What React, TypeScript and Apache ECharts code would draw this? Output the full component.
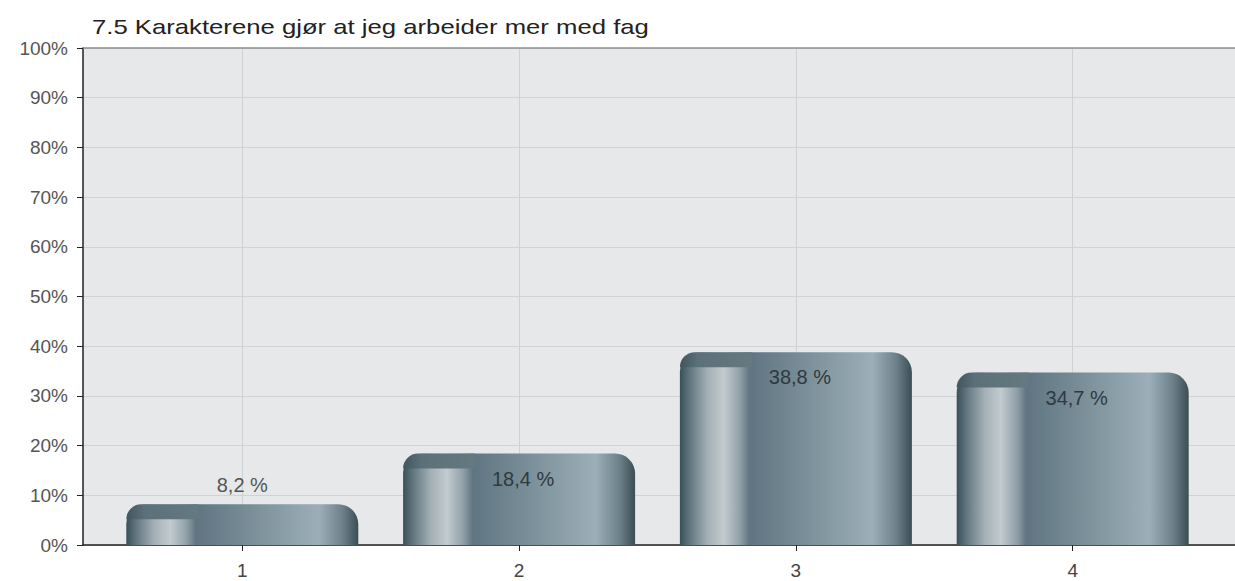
import React, { useEffect, useRef } from "react";
import * as echarts from "echarts";

const title = "7.5 Karakterene gjør at jeg arbeider mer med fag";
const categories = [1, 2, 3, 4];
const values = [8.2, 18.4, 38.8, 34.7];
const valueLabels = ["8,2 %", "18,4 %", "38,8 %", "34,7 %"];

const BAR_W = 232;
const RADIUS = 20;

export default function App() {
  const ref = useRef<HTMLDivElement>(null);
  useEffect(() => {
    if (!ref.current) return;
    const chart = echarts.init(ref.current, undefined, { renderer: "svg" });
    const barGrad = new echarts.graphic.LinearGradient(0, 0, 1, 0, [
      { offset: 0, color: "#3a5059" },
      { offset: 0.05, color: "#687c85" },
      { offset: 0.12, color: "#a4b0b6" },
      { offset: 0.19, color: "#c2cbcf" },
      { offset: 0.26, color: "#909fa7" },
      { offset: 0.3, color: "#5f7581" },
      { offset: 0.5, color: "#758a94" },
      { offset: 0.83, color: "#9cafb8" },
      { offset: 0.93, color: "#6e828b" },
      { offset: 1, color: "#3b4e56" },
    ]);
    const bandGrad = new echarts.graphic.LinearGradient(0, 0, 1, 0, [
      { offset: 0, color: "#40555e" },
      { offset: 0.25, color: "#5c7079" },
      { offset: 1, color: "#657981" },
    ]);
    const axisBase = {
      type: "value",
      min: 0.4245,
      max: 4.5864,
    };
    chart.setOption({
      animation: false,
      backgroundColor: "#ffffff",
      graphic: [
        {
          type: "text",
          left: 92,
          top: 17,
          scaleX: 1.285,
          style: {
            text: title,
            fontFamily: "Liberation Sans",
            fontSize: 20,
            fill: "#222",
          },
        },
      ],
      grid: {
        left: 83,
        right: -6,
        top: 48,
        bottom: 36,
        show: true,
        backgroundColor: "#e6e8ea",
        borderWidth: 0,
      },
      xAxis: [
        {
          ...axisBase,
          axisLine: { show: true, onZero: false, lineStyle: { color: "#222", width: 1.5 } },
          axisTick: { show: true, length: 6, customValues: categories, lineStyle: { color: "#222" } },
          axisLabel: {
            customValues: categories,
            fontFamily: "Liberation Sans",
            fontSize: 19,
            color: "#444",
            margin: 16,
          },
          splitLine: { show: true, lineStyle: { color: "#cfd2d5" } },
        },
        {
          ...axisBase,
          position: "top",
          axisLine: { show: true, onZero: false, lineStyle: { color: "#8c8f92", width: 1.5 } },
          axisTick: { show: false },
          axisLabel: { show: false },
          splitLine: { show: false },
        },
      ],
      yAxis: {
        type: "value",
        min: 0,
        max: 100,
        interval: 10,
        axisLine: { show: true, lineStyle: { color: "#222", width: 1.5 } },
        axisTick: { show: true, length: 6, lineStyle: { color: "#222" } },
        axisLabel: {
          formatter: "{value}%",
          fontFamily: "Liberation Sans",
          fontSize: 19,
          color: "#555",
          margin: 15,
        },
        splitLine: { show: true, lineStyle: { color: "#d0d3d6" } },
      },
      series: [
        {
          type: "bar",
          barWidth: BAR_W,
          data: values.map((v, i) => ({
            value: [categories[i], v],
            label: i === 0 ? { position: "top", distance: 9, offset: [0, 0], color: "#555" } : {},
          })),
          itemStyle: {
            color: barGrad,
            borderRadius: [RADIUS, RADIUS, 0, 0],
          },
          label: {
            show: true,
            position: "insideTop",
            distance: 15,
            offset: [4, 0],
            fontFamily: "Liberation Sans",
            fontSize: 20,
            color: "#2e3a40",
            formatter: (p: any) => valueLabels[p.dataIndex],
          },
          z: 2,
        },
        {
          type: "custom",
          z: 3,
          silent: true,
          data: values.map((v, i) => [categories[i], v]),
          renderItem: (params: any, api: any) => {
            const top = api.coord([api.value(0), api.value(1)]);
            const base = api.coord([api.value(0), 0]);
            const h = Math.min(15, base[1] - top[1]);
            const x0 = top[0] - BAR_W / 2;
            return {
              type: "rect",
              shape: { x: x0, y: top[1], width: BAR_W * 0.31, height: h, r: [RADIUS, 0, 0, 0] },
              style: { fill: bandGrad },
            };
          },
        },
      ],
    });
    return () => chart.dispose();
  }, []);
  return (
    <div
      ref={ref}
      style={{ position: "fixed", left: 0, top: 0, width: 1235, height: 581 }}
    />
  );
}
